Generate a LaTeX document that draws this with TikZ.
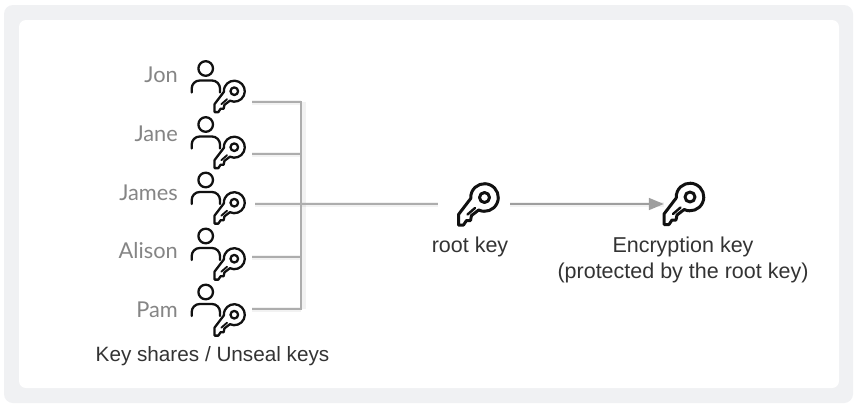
\documentclass[tikz,border=0pt]{standalone}
\usepackage{fontspec}
\setmainfont{Liberation Sans}
\newfontfamily\namefont{Lato}
\usetikzlibrary{arrows.meta}
\definecolor{panel}{HTML}{F0F1F3}
\definecolor{wire}{HTML}{ADADAD}
\definecolor{wiretip}{HTML}{9E9E9E}
\definecolor{namegray}{HTML}{858585}
\definecolor{ink}{HTML}{111111}
\definecolor{captionink}{HTML}{333333}
\tikzset{
  x=1pt,y=-1pt,
  iconline/.style={draw=ink,line width=2.3pt,line join=round,line cap=round},
  wireline/.style={draw=wire,line width=1.6pt},
  wireshadow/.style={draw=black,opacity=.05,line width=5pt},
  namelabel/.style={anchor=east,inner sep=0pt,text=namegray,font=\namefont\fontsize{21.8}{24}\selectfont},
  caption/.style={inner sep=0pt,text=captionink,font=\fontsize{21.5}{24}\selectfont,align=center},
  hub/.style={inner sep=0pt,minimum height=4pt},
  pics/keyicon/.style 2 args={code={
    \begin{scope}[scale=#1]
      \draw[iconline,line width=#2] (115:13.8) arc[start angle=115,end angle=-184,radius=13.8] -- (-26,17) -- (-26,27.5) -- (-21,27.5) -- (-18,23) -- (-14,23) -- (-13,18) -- cycle;
      \draw[iconline,line width=#2] (0,0) circle[radius=5];
      \draw[iconline,line width=#2*0.8] (-17,17) -- (-9.5,10.5);
    \end{scope}
  }},
  pics/usericon/.style={code={
    \draw[iconline] (0,0) circle[radius=7.3];
    \draw[iconline] (-14,24) -- (-14,20) arc[start angle=180,end angle=270,radius=8] -- (6.3,12) arc[start angle=270,end angle=360,radius=8] -- (14.3,24);
  }}
}
\begin{document}
\begin{tikzpicture}
\useasboundingbox (0,0) rectangle (857,408);
\fill[white] (0,0) rectangle (857,408);
\fill[panel,rounded corners=9pt] (4,5) rectangle (853,403);
\fill[white,rounded corners=7pt] (19,20) rectangle (839,388);

% people and their keys
\foreach \nm/\who/\hy/\ly in {jon/Jon/68.5/75,jane/Jane/124.5/134,james/James/180/193,alison/Alison/236/251,pam/Pam/292/310}{
  \node[namelabel] (\nm) at (178,\ly) {\who};
  \pic at (205.7,\hy) {usericon};
  \pic at (234.3,\hy+22.7) {keyicon={0.76}{2.3pt}};
}

% connector ends
\coordinate (jonout) at (252,102);
\coordinate (janeout) at (252,154);
\coordinate (jamesout) at (255,204);
\coordinate (alisonout) at (252,257);
\coordinate (pamout) at (252,309);
\coordinate (bustop) at (301,102);
\coordinate (busbottom) at (301,309);
\coordinate (janebus) at (301,154);
\coordinate (alisonbus) at (301,257);
\node[hub,minimum width=72pt] (rootkey) at (474,204) {};
\node[hub,minimum width=38pt] (enckey) at (683,204) {};

% soft shadows
\begin{scope}[yshift=-2.5pt]
  \draw[wireshadow] (jonout) -- (bustop);
  \draw[wireshadow] (janeout) -- (janebus);
  \draw[wireshadow] (jamesout) -- (rootkey.west);
  \draw[wireshadow] (alisonout) -- (alisonbus);
  \draw[wireshadow] (pamout) -- (busbottom);
  \draw[wireshadow] (rootkey.east) -- (enckey.west);
\end{scope}
\draw[wireshadow] ([xshift=2pt]bustop) -- ([xshift=2pt]busbottom);

% connectors
\draw[wireline] (jonout) -- (bustop) -- (busbottom) -- (pamout);
\draw[wireline] (janeout) -- (janebus);
\draw[wireline] (alisonout) -- (alisonbus);
\draw[wireline] (jamesout) -- (rootkey.west);
\draw[wireline,wiretip,-{Triangle[length=15pt,width=12pt,fill=wiretip]}] (rootkey.east) -- (enckey.west);

% key icons
\pic at (484.5,197.5) {keyicon={1}{3pt}};
\pic at (690,197) {keyicon={1}{3pt}};

% captions
\node[caption] (rootcap) at (470,247) {root key};
\node[caption] (enccap) at (683,260) {Encryption key\\[1.5pt](protected by the root key)};
\node[caption,font=\fontsize{20.7}{24}\selectfont] (sharescap) at (212.5,356) {Key shares / Unseal keys};
\end{tikzpicture}
\end{document}
